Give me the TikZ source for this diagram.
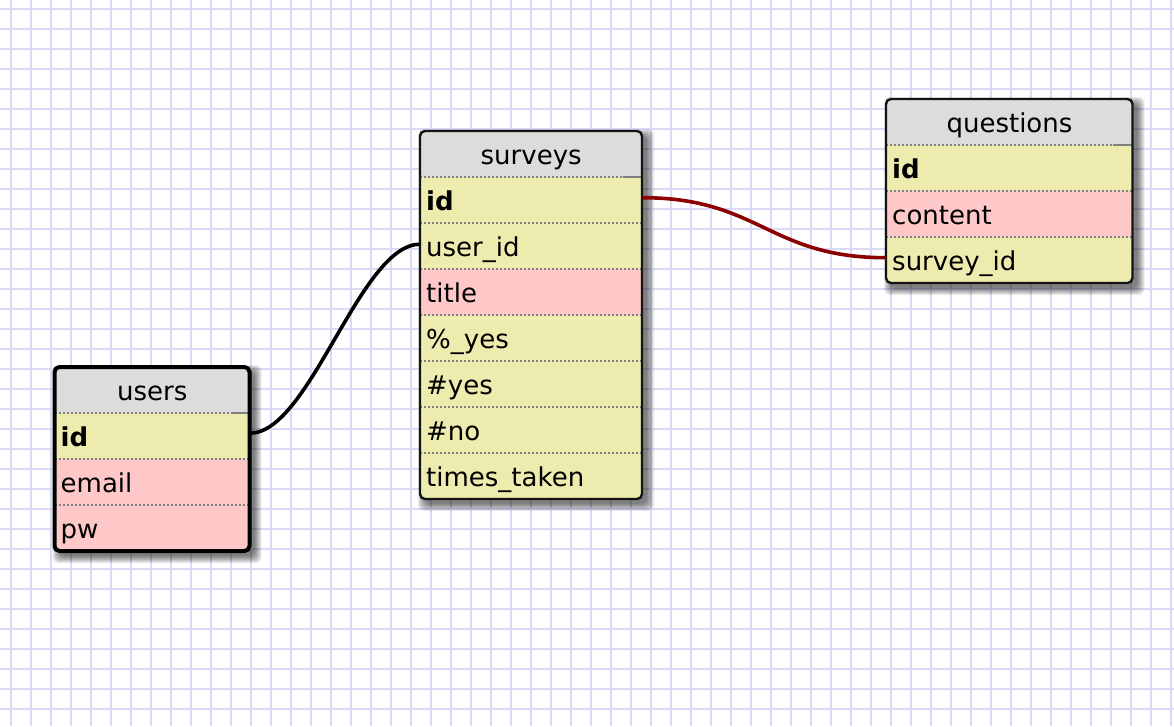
\documentclass[tikz,border=0pt]{standalone}
\usepackage{fontspec}
\setmainfont{DejaVu Sans}

\definecolor{gridline}{RGB}{218,218,247}
\definecolor{hdrgray}{RGB}{220,220,220}
\definecolor{keyyellow}{RGB}{238,235,175}
\definecolor{attrpink}{RGB}{255,200,200}
\definecolor{sepgray}{RGB}{128,128,128}
\definecolor{fkred}{RGB}{140,0,0}
\definecolor{boxline}{RGB}{20,20,20}

\newcommand\cellfont{\fontsize{26}{30}\selectfont}

% soft drop shadow: stacked translucent rounded rectangles
\newcommand\softshadow[4]{%
  \foreach \k in {0,...,7}
    \fill[black, fill opacity=0.08, rounded corners=6pt]
      ({#1+5-\k},{#2+5-\k}) rectangle ({#3+5+\k},{#4+5+\k});%
}

\tikzset{
  gridrule/.style={draw=gridline, line width=2pt},
  tablebg/.style={fill=white, rounded corners=5pt},
  hdr/.style={rectangle, anchor=north west, inner sep=0pt,
    minimum width=#1, minimum height=46pt,
    text height=24pt, text depth=4pt, fill=hdrgray, font=\cellfont},
  row/.style={rectangle, anchor=north west, inner xsep=6pt, inner ysep=0pt,
    minimum height=46pt, text width=#1, align=left,
    text height=24pt, text depth=4pt, font=\cellfont},
  keyrow/.style={row=#1, fill=keyyellow},
  attrrow/.style={row=#1, fill=attrpink},
  sep/.style={draw=sepgray, line width=1.6pt, dash pattern=on 2pt off 2pt},
  septail/.style={draw=sepgray, line width=1.6pt},
  frame/.style={draw=boxline, line width=2.4pt, rounded corners=5pt},
  selframe/.style={draw=black, line width=4pt, rounded corners=5pt},
  link/.style={draw=black, line width=3.6pt},
  fklink/.style={draw=fkred, line width=3.6pt},
}

\begin{document}
\begin{tikzpicture}[x=1pt, y=-1pt]
\useasboundingbox (0,0) rectangle (1174,726);
\fill[white] (0,0) rectangle (1174,726);

% background grid
\foreach \gx in {10.5,30.5,...,1170.5}
  \draw[gridrule] (\gx,0) -- (\gx,726);
\foreach \gy in {8.7,28.7,...,720}
  \draw[gridrule] (0,\gy) -- (1174,\gy);

% ---------- users ----------
\softshadow{54.5}{367}{249.5}{551}
\fill[tablebg] (54.5,367) rectangle (249.5,551);
\begin{scope}
  \clip[rounded corners=5pt] (54.5,367) rectangle (249.5,551);
  \node[hdr=195pt] (users) at (54.5,367) {users};
  \node[keyrow=183pt] (users-id) at (54.5,413) {\textbf{id}};
  \node[attrrow=183pt] (users-email) at (54.5,459) {email};
  \node[attrrow=183pt] (users-pw) at (54.5,505) {pw};
\end{scope}
\draw[sep] (users-id.north west) -- (users-id.north east);
\draw[septail] ([xshift=-18pt]users-id.north east) -- (users-id.north east);
\draw[sep] (users-email.north west) -- (users-email.north east);
\draw[sep] (users-pw.north west) -- (users-pw.north east);
\draw[selframe] (54.5,367) rectangle (249.5,551);

% ---------- surveys ----------
\softshadow{420}{131}{642}{499}
\fill[tablebg] (420,131) rectangle (642,499);
\begin{scope}
  \clip[rounded corners=5pt] (420,131) rectangle (642,499);
  \node[hdr=222pt] (surveys) at (420,131) {surveys};
  \node[keyrow=210pt] (surveys-id) at (420,177) {\textbf{id}};
  \node[keyrow=210pt] (surveys-userid) at (420,223) {user\_id};
  \node[attrrow=210pt] (surveys-title) at (420,269) {title};
  \node[keyrow=210pt] (surveys-pctyes) at (420,315) {\%\_yes};
  \node[keyrow=210pt] (surveys-nyes) at (420,361) {\#yes};
  \node[keyrow=210pt] (surveys-nno) at (420,407) {\#no};
  \node[keyrow=210pt] (surveys-taken) at (420,453) {times\_taken};
\end{scope}
\draw[sep] (surveys-id.north west) -- (surveys-id.north east);
\draw[septail] ([xshift=-19pt]surveys-id.north east) -- (surveys-id.north east);
\foreach \r in {userid,title,pctyes,nyes,nno,taken}
  \draw[sep] (surveys-\r.north west) -- (surveys-\r.north east);
\draw[frame] (420,131) rectangle (642,499);

% ---------- questions ----------
\softshadow{886}{99}{1132.5}{283}
\fill[tablebg] (886,99) rectangle (1132.5,283);
\begin{scope}
  \clip[rounded corners=5pt] (886,99) rectangle (1132.5,283);
  \node[hdr=246.5pt] (questions) at (886,99) {questions};
  \node[keyrow=234.5pt] (questions-id) at (886,145) {\textbf{id}};
  \node[attrrow=234.5pt] (questions-content) at (886,191) {content};
  \node[keyrow=234.5pt] (questions-surveyid) at (886,237) {survey\_id};
\end{scope}
\draw[sep] (questions-id.north west) -- (questions-id.north east);
\draw[septail] ([xshift=-20pt]questions-id.north east) -- (questions-id.north east);
\draw[sep] (questions-content.north west) -- (questions-content.north east);
\draw[sep] (questions-surveyid.north west) -- (questions-surveyid.north east);
\draw[frame] (886,99) rectangle (1132.5,283);

% ---------- relations ----------
\draw[link] ([yshift=3pt]users-id.east)
  .. controls +(60,0) and +(-60,0) .. ([yshift=2pt]surveys-userid.west);
\draw[fklink] ([yshift=2.5pt]surveys-id.east)
  .. controls +(117,0) and +(-117,0) .. ([yshift=2.5pt]questions-surveyid.west);
\end{tikzpicture}
\end{document}
